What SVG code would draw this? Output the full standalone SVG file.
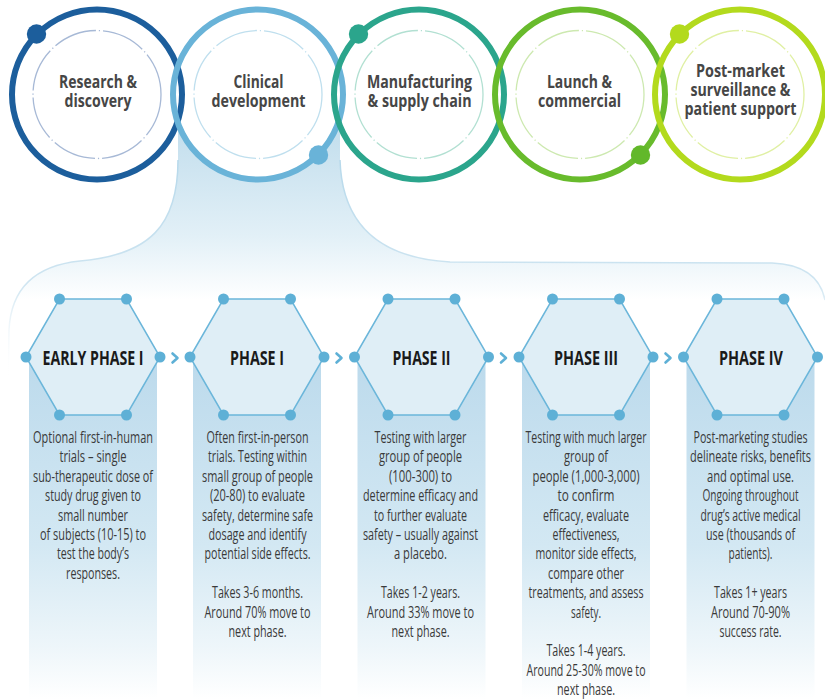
<svg xmlns="http://www.w3.org/2000/svg" width="825" height="699" viewBox="0 0 825 699">
<defs>
  <linearGradient id="funnelFill" gradientUnits="userSpaceOnUse" x1="0" y1="140" x2="0" y2="300">
    <stop offset="0" stop-color="#c6e0ee"/>
    <stop offset="0.6" stop-color="#e2f0f7"/>
    <stop offset="1" stop-color="#ffffff"/>
  </linearGradient>
  <linearGradient id="funnelStroke" gradientUnits="userSpaceOnUse" x1="0" y1="140" x2="0" y2="380">
    <stop offset="0" stop-color="#b3d7ea"/>
    <stop offset="0.6" stop-color="#cfe5f1"/>
    <stop offset="1" stop-color="#ffffff" stop-opacity="0"/>
  </linearGradient>
  <linearGradient id="colFill" gradientUnits="userSpaceOnUse" x1="0" y1="357" x2="0" y2="699">
    <stop offset="0" stop-color="#bcdaec"/>
    <stop offset="0.55" stop-color="#d3e8f3"/>
    <stop offset="0.85" stop-color="#eef6fa"/>
    <stop offset="1" stop-color="#ffffff"/>
  </linearGradient>
  <g id="hex">
    <polygon class="hexf" points="-67,0 -33.5,-58 33.5,-58 67,0 33.5,58 -33.5,58"/>
    <circle class="hexdot" cx="-67" cy="0" r="5.5"/>
    <circle class="hexdot" cx="67" cy="0" r="5.5"/>
    <circle class="hexdot" cx="-33.5" cy="-58" r="5.5"/>
    <circle class="hexdot" cx="33.5" cy="-58" r="5.5"/>
    <circle class="hexdot" cx="-33.5" cy="58" r="5.5"/>
    <circle class="hexdot" cx="33.5" cy="58" r="5.5"/>
  </g>
  <path id="chev" d="M-3,-4.5 L2,0 L-3,4.5"/>
</defs>
<style>
  .ring { fill: none; stroke-width: 6; }
  .inner { fill: none; stroke-width: 1.3; stroke-dasharray: 44 3 1.2 3; }
  .disc { fill: #ffffff; }
  .ct { font-family: "Open Sans", "Liberation Sans", sans-serif; font-weight: 700; font-size: 18px; fill: #464646; text-anchor: middle; }
  .pl { font-family: "Open Sans", "Liberation Sans", sans-serif; font-weight: 700; font-size: 19.5px; fill: #1a1a1a; text-anchor: middle; }
  .bt { font-family: "Open Sans", "Liberation Sans", sans-serif; font-weight: 400; font-size: 15.5px; fill: #3a3a3a; text-anchor: middle; }
  .col { fill: url(#colFill); }
  .hexf { fill: #dfeef6; stroke: #6bb6da; stroke-width: 1.5; }
  .hexdot { fill: #5eb0d6; }
  .chev { fill: none; stroke: #5eb0d6; stroke-width: 2.6; stroke-linecap: round; stroke-linejoin: round; }
</style>

<rect width="825" height="699" fill="#ffffff"/>

<!-- funnel from Clinical development -->
<g id="funnel">
  <path fill="url(#funnelFill)" d="M178,120 L178,160 C178,225 150,255 80,261 Q12,268 9,330 L9,699 L825,699 L825,300 Q818,265 772,263 L450,262 C380,258 342,225 340,160 L340,120 Z"/>
  <path fill="none" stroke="url(#funnelStroke)" stroke-width="1.5" d="M178,160 C178,225 150,255 80,261 Q12,268 9,330 L8,400"/>
  <path fill="none" stroke="url(#funnelStroke)" stroke-width="1.5" d="M340,160 C342,225 380,258 450,262 L772,263 Q818,265 825,300"/>
</g>

<!-- stage circles -->
<g id="stage-discs">
  <circle class="disc" cx="97" cy="94.5" r="85"/>
  <circle class="disc" cx="258" cy="94.5" r="85"/>
  <circle class="disc" cx="419" cy="94.5" r="85"/>
  <circle class="disc" cx="580" cy="94.5" r="85"/>
  <circle class="disc" cx="740" cy="94.5" r="85"/>
</g>

<g id="stage-research">
  <circle class="ring" cx="97" cy="94.5" r="85" stroke="#1c5e9c"/>
  <circle class="inner" cx="97" cy="94.5" r="64" stroke="#a7b9d6"/>
  <circle cx="36.5" cy="34" r="9.7" fill="#1c5e9c"/>
  <g transform="translate(98 0) scale(0.8 1)">
    <text class="ct" x="0" y="88" textLength="97.5" lengthAdjust="spacingAndGlyphs">Research &amp;</text>
    <text class="ct" x="0" y="107" textLength="83.8" lengthAdjust="spacingAndGlyphs">discovery</text>
  </g>
</g>

<g id="stage-clinical">
  <circle class="ring" cx="258" cy="94.5" r="85" stroke="#69b3d8"/>
  <circle class="inner" cx="258" cy="94.5" r="64" stroke="#bfdfee"/>
  <circle cx="318.5" cy="155" r="9.7" fill="#69b3d8"/>
  <g transform="translate(258.5 0) scale(0.8 1)">
    <text class="ct" x="0" y="88" textLength="62.5" lengthAdjust="spacingAndGlyphs">Clinical</text>
    <text class="ct" x="0" y="107" textLength="117.5" lengthAdjust="spacingAndGlyphs">development</text>
  </g>
</g>

<g id="stage-manufacturing">
  <circle class="ring" cx="419" cy="94.5" r="85" stroke="#2ba58c"/>
  <circle class="inner" cx="419" cy="94.5" r="64" stroke="#b2e0d2"/>
  <circle cx="358.5" cy="34" r="9.7" fill="#2ba58c"/>
  <g transform="translate(419.5 0) scale(0.8 1)">
    <text class="ct" x="0" y="88" textLength="131.3" lengthAdjust="spacingAndGlyphs">Manufacturing</text>
    <text class="ct" x="0" y="107" textLength="130" lengthAdjust="spacingAndGlyphs">&amp; supply chain</text>
  </g>
</g>

<g id="stage-launch">
  <circle class="ring" cx="580" cy="94.5" r="85" stroke="#68bb2c"/>
  <circle class="inner" cx="580" cy="94.5" r="64" stroke="#cde9b0"/>
  <circle cx="640.5" cy="155" r="9.7" fill="#62b82a"/>
  <g transform="translate(579.5 0) scale(0.8 1)">
    <text class="ct" x="0" y="88" textLength="81.3" lengthAdjust="spacingAndGlyphs">Launch &amp;</text>
    <text class="ct" x="0" y="107" textLength="103.8" lengthAdjust="spacingAndGlyphs">commercial</text>
  </g>
</g>

<g id="stage-postmarket">
  <circle class="ring" cx="740" cy="94.5" r="85" stroke="#b3da1d"/>
  <circle class="inner" cx="740" cy="94.5" r="64" stroke="#e0f0a4"/>
  <circle cx="679.5" cy="34" r="9.7" fill="#b3da1d"/>
  <g transform="translate(740.5 0) scale(0.8 1)">
    <text class="ct" x="0" y="77" textLength="111.3" lengthAdjust="spacingAndGlyphs">Post-market</text>
    <text class="ct" x="0" y="96" textLength="125" lengthAdjust="spacingAndGlyphs">surveillance &amp;</text>
    <text class="ct" x="0" y="115" textLength="140" lengthAdjust="spacingAndGlyphs">patient support</text>
  </g>
</g>

<!-- phase columns -->
<g id="phase-early1">
  <rect class="col" x="29" y="357" width="128" height="342"/>
  <use href="#hex" x="93" y="357"/>
  <g transform="translate(93 0) scale(0.75 1)">
    <text class="pl" x="0" y="365" textLength="134.7" lengthAdjust="spacingAndGlyphs">EARLY PHASE I</text>
  </g>
  <g transform="translate(93 0) scale(0.7 1)">
    <text class="bt" x="0" y="443" textLength="171.4" lengthAdjust="spacingAndGlyphs">Optional first-in-human</text>
    <text class="bt" x="0" y="462.4" textLength="95.7" lengthAdjust="spacingAndGlyphs">trials – single</text>
    <text class="bt" x="0" y="481.8" textLength="171.4" lengthAdjust="spacingAndGlyphs">sub-therapeutic dose of</text>
    <text class="bt" x="0" y="501.2" textLength="137.1" lengthAdjust="spacingAndGlyphs">study drug given to</text>
    <text class="bt" x="0" y="520.6" textLength="100" lengthAdjust="spacingAndGlyphs">small number</text>
    <text class="bt" x="0" y="540" textLength="151.4" lengthAdjust="spacingAndGlyphs">of subjects (10-15) to</text>
    <text class="bt" x="0" y="559.4" textLength="102.9" lengthAdjust="spacingAndGlyphs">test the body’s</text>
    <text class="bt" x="0" y="578.8" textLength="77.1" lengthAdjust="spacingAndGlyphs">responses.</text>
  </g>
</g>

<g id="phase-1">
  <rect class="col" x="193" y="357" width="128" height="342"/>
  <use href="#hex" x="257" y="357"/>
  <g transform="translate(257 0) scale(0.75 1)">
    <text class="pl" x="0" y="365" textLength="72" lengthAdjust="spacingAndGlyphs">PHASE I</text>
  </g>
  <g transform="translate(257.5 0) scale(0.7 1)">
    <text class="bt" x="0" y="443" textLength="145.7" lengthAdjust="spacingAndGlyphs">Often first-in-person</text>
    <text class="bt" x="0" y="462.4" textLength="141.4" lengthAdjust="spacingAndGlyphs">trials. Testing within</text>
    <text class="bt" x="0" y="481.8" textLength="158.6" lengthAdjust="spacingAndGlyphs">small group of people</text>
    <text class="bt" x="0" y="501.2" textLength="135.7" lengthAdjust="spacingAndGlyphs">(20-80) to evaluate</text>
    <text class="bt" x="0" y="520.6" textLength="158.6" lengthAdjust="spacingAndGlyphs">safety, determine safe</text>
    <text class="bt" x="0" y="540" textLength="140" lengthAdjust="spacingAndGlyphs">dosage and identify</text>
    <text class="bt" x="0" y="559.4" textLength="151.4" lengthAdjust="spacingAndGlyphs">potential side effects.</text>
    <text class="bt" x="0" y="598.2" textLength="130" lengthAdjust="spacingAndGlyphs">Takes 3-6 months.</text>
    <text class="bt" x="0" y="617.6" textLength="151.4" lengthAdjust="spacingAndGlyphs">Around 70% move to</text>
    <text class="bt" x="0" y="637" textLength="82.9" lengthAdjust="spacingAndGlyphs">next phase.</text>
  </g>
</g>

<g id="phase-2">
  <rect class="col" x="357.5" y="357" width="128" height="342"/>
  <use href="#hex" x="421.5" y="357"/>
  <g transform="translate(421.5 0) scale(0.75 1)">
    <text class="pl" x="0" y="365" textLength="77.3" lengthAdjust="spacingAndGlyphs">PHASE II</text>
  </g>
  <g transform="translate(420.5 0) scale(0.7 1)">
    <text class="bt" x="0" y="443" textLength="131.4" lengthAdjust="spacingAndGlyphs">Testing with larger</text>
    <text class="bt" x="0" y="462.4" textLength="118.6" lengthAdjust="spacingAndGlyphs">group of people</text>
    <text class="bt" x="0" y="481.8" textLength="90" lengthAdjust="spacingAndGlyphs">(100-300) to</text>
    <text class="bt" x="0" y="501.2" textLength="164.3" lengthAdjust="spacingAndGlyphs">determine efficacy and</text>
    <text class="bt" x="0" y="520.6" textLength="132.9" lengthAdjust="spacingAndGlyphs">to further evaluate</text>
    <text class="bt" x="0" y="540" textLength="164.3" lengthAdjust="spacingAndGlyphs">safety – usually against</text>
    <text class="bt" x="0" y="559.4" textLength="75.7" lengthAdjust="spacingAndGlyphs">a placebo.</text>
    <text class="bt" x="0" y="598.2" textLength="112.9" lengthAdjust="spacingAndGlyphs">Takes 1-2 years.</text>
    <text class="bt" x="0" y="617.6" textLength="152.9" lengthAdjust="spacingAndGlyphs">Around 33% move to</text>
    <text class="bt" x="0" y="637" textLength="82.9" lengthAdjust="spacingAndGlyphs">next phase.</text>
  </g>
</g>

<g id="phase-3">
  <rect class="col" x="522" y="357" width="128" height="342"/>
  <use href="#hex" x="586" y="357"/>
  <g transform="translate(586 0) scale(0.75 1)">
    <text class="pl" x="0" y="365" textLength="85.3" lengthAdjust="spacingAndGlyphs">PHASE III</text>
  </g>
  <g transform="translate(586 0) scale(0.7 1)">
    <text class="bt" x="0" y="443" textLength="172.9" lengthAdjust="spacingAndGlyphs">Testing with much larger</text>
    <text class="bt" x="0" y="462.4" textLength="62.9" lengthAdjust="spacingAndGlyphs">group of</text>
    <text class="bt" x="0" y="481.8" textLength="152.9" lengthAdjust="spacingAndGlyphs">people (1,000-3,000)</text>
    <text class="bt" x="0" y="501.2" textLength="81.4" lengthAdjust="spacingAndGlyphs">to confirm</text>
    <text class="bt" x="0" y="520.6" textLength="122.9" lengthAdjust="spacingAndGlyphs">efficacy, evaluate</text>
    <text class="bt" x="0" y="540" textLength="95.7" lengthAdjust="spacingAndGlyphs">effectiveness,</text>
    <text class="bt" x="0" y="559.4" textLength="144.3" lengthAdjust="spacingAndGlyphs">monitor side effects,</text>
    <text class="bt" x="0" y="578.8" textLength="108.6" lengthAdjust="spacingAndGlyphs">compare other</text>
    <text class="bt" x="0" y="598.2" textLength="164.3" lengthAdjust="spacingAndGlyphs">treatments, and assess</text>
    <text class="bt" x="0" y="617.6" textLength="42.9" lengthAdjust="spacingAndGlyphs">safety.</text>
    <text class="bt" x="0" y="656.4" textLength="112.9" lengthAdjust="spacingAndGlyphs">Takes 1-4 years.</text>
    <text class="bt" x="0" y="675.8" textLength="170" lengthAdjust="spacingAndGlyphs">Around 25-30% move to</text>
    <text class="bt" x="0" y="695.2" textLength="82.9" lengthAdjust="spacingAndGlyphs">next phase.</text>
  </g>
</g>

<g id="phase-4">
  <rect class="col" x="686.5" y="357" width="128" height="342"/>
  <use href="#hex" x="750.5" y="357"/>
  <g transform="translate(751 0) scale(0.75 1)">
    <text class="pl" x="0" y="365" textLength="85.3" lengthAdjust="spacingAndGlyphs">PHASE IV</text>
  </g>
  <g transform="translate(750.5 0) scale(0.7 1)">
    <text class="bt" x="0" y="443" textLength="162.9" lengthAdjust="spacingAndGlyphs">Post-marketing studies</text>
    <text class="bt" x="0" y="462.4" textLength="172.9" lengthAdjust="spacingAndGlyphs">delineate risks, benefits</text>
    <text class="bt" x="0" y="481.8" textLength="124.3" lengthAdjust="spacingAndGlyphs">and optimal use.</text>
    <text class="bt" x="0" y="501.2" textLength="137.1" lengthAdjust="spacingAndGlyphs">Ongoing throughout</text>
    <text class="bt" x="0" y="520.6" textLength="142.9" lengthAdjust="spacingAndGlyphs">drug’s active medical</text>
    <text class="bt" x="0" y="540" textLength="127.1" lengthAdjust="spacingAndGlyphs">use (thousands of</text>
    <text class="bt" x="0" y="559.4" textLength="62.9" lengthAdjust="spacingAndGlyphs">patients).</text>
    <text class="bt" x="0" y="598.2" textLength="104.3" lengthAdjust="spacingAndGlyphs">Takes 1+ years</text>
    <text class="bt" x="0" y="617.6" textLength="112.9" lengthAdjust="spacingAndGlyphs">Around 70-90%</text>
    <text class="bt" x="0" y="637" textLength="88.6" lengthAdjust="spacingAndGlyphs">success rate.</text>
  </g>
</g>

<!-- connectors -->
<g id="connectors">
  <use href="#chev" class="chev" x="175.5" y="358"/>
  <use href="#chev" class="chev" x="339.5" y="358"/>
  <use href="#chev" class="chev" x="504" y="358"/>
  <use href="#chev" class="chev" x="668.5" y="358"/>
</g>
</svg>
